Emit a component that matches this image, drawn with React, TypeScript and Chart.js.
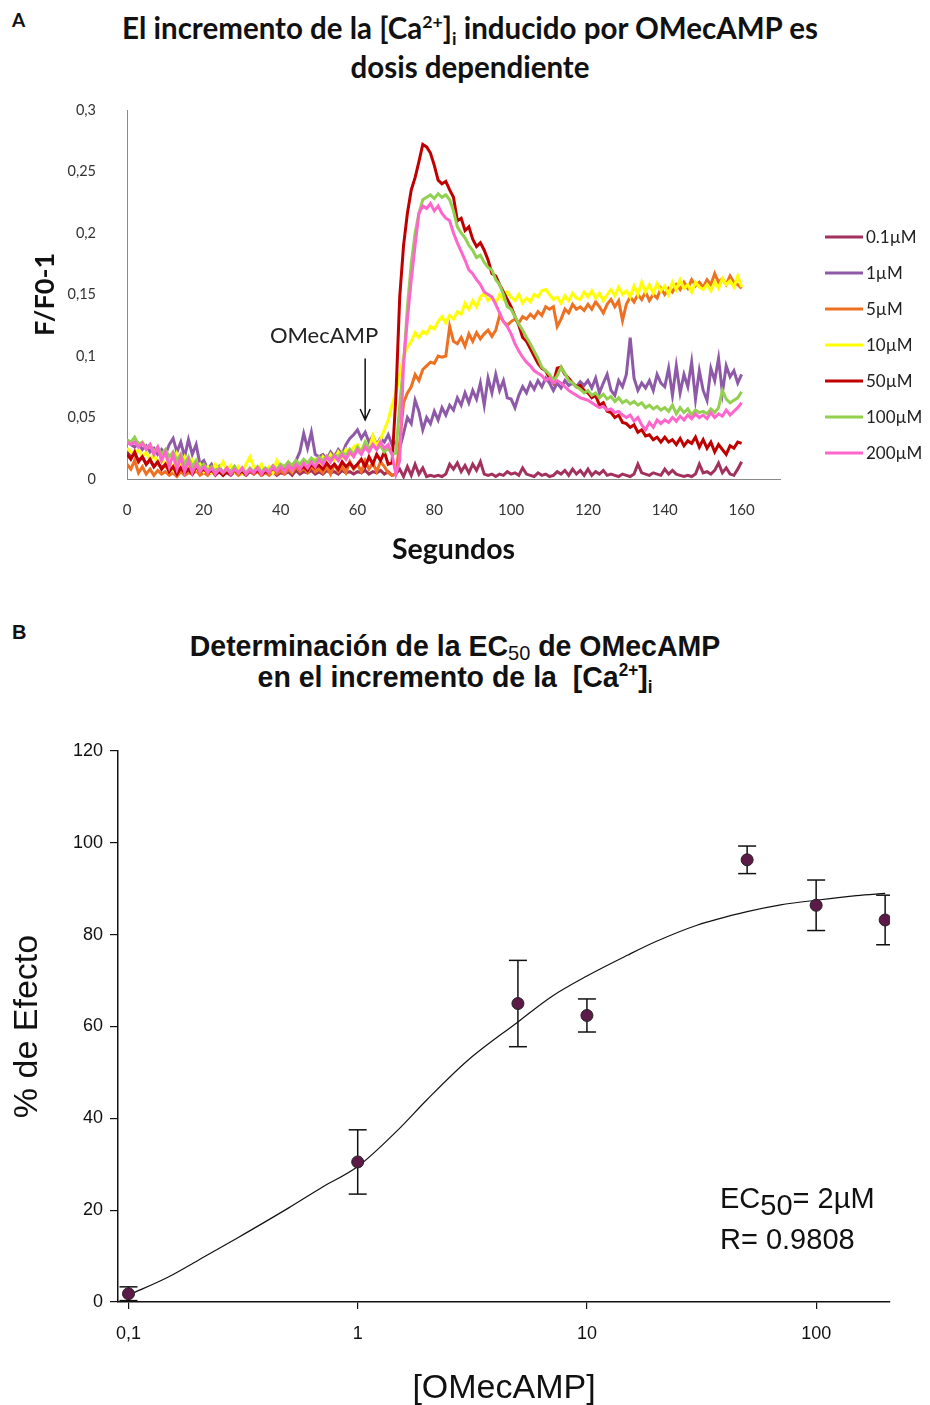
import React, { useEffect, useRef } from "react";
import { Chart, registerables } from "chart.js";
Chart.register(...registerables);

// ---------- Panel A data (F/F0-1 vs seconds, 1 s sampling) ----------
const seconds: number[] = Array.from({ length: 161 }, (_, i) => i);
const doseLabels = ["0.1µM", "1µM", "5µM", "10µM", "50µM", "100µM", "200µM"];
const traceColors = ["#A3315E", "#8E5AA8", "#EE7122", "#FFFF00", "#C00000", "#92D050", "#FF66CC"];

const trace01 = [
  0.022, 0.018, 0.02, 0.015, 0.018, 0.012, 0.015, 0.01, 0.013, 0.009,
  0.012, 0.008, 0.01, 0.006, 0.009, 0.005, 0.008, 0.004, 0.007, 0.005,
  0.006, 0.004, 0.007, 0.003, 0.006, 0.004, 0.005, 0.003, 0.006, 0.004,
  0.005, 0.003, 0.006, 0.004, 0.007, 0.003, 0.005, 0.004, 0.006, 0.003,
  0.005, 0.004, 0.006, 0.003, 0.007, 0.004, 0.006, 0.005, 0.007, 0.004,
  0.006, 0.004, 0.007, 0.005, 0.006, 0.004, 0.007, 0.005, 0.006, 0.004,
  0.006, 0.005, 0.007, 0.004, 0.006, 0.005, 0.007, 0.004, 0.006, 0.003,
  0.004, 0.008, 0.002, 0.01, 0.003, 0.012, 0.004, 0.009, 0.002, 0.003,
  0.002, 0.003, 0.002, 0.004, 0.012, 0.008, 0.013, 0.006, 0.011, 0.005,
  0.012, 0.007, 0.014, 0.004, 0.003, 0.004, 0.002, 0.004, 0.003, 0.006,
  0.004, 0.005, 0.003, 0.009, 0.004, 0.003, 0.002, 0.005, 0.003, 0.004,
  0.002, 0.003, 0.006, 0.004, 0.007, 0.003, 0.008, 0.004, 0.007, 0.003,
  0.008, 0.003, 0.006, 0.004, 0.007, 0.003, 0.004, 0.003, 0.002, 0.004,
  0.003, 0.002, 0.004, 0.012, 0.005, 0.004, 0.003, 0.005, 0.004, 0.003,
  0.008, 0.004, 0.007, 0.004, 0.003, 0.002, 0.003, 0.002, 0.004, 0.012,
  0.005, 0.006, 0.004, 0.007, 0.013, 0.005, 0.009, 0.004, 0.003, 0.008,
  0.014,
];
const trace1 = [
  0.03, 0.028, 0.026, 0.029, 0.024, 0.027, 0.022, 0.025, 0.02, 0.024,
  0.02, 0.028, 0.033, 0.022, 0.03, 0.018, 0.032, 0.02, 0.028, 0.012,
  0.015, 0.008, 0.012, 0.006, 0.01, 0.005, 0.009, 0.006, 0.01, 0.005,
  0.008, 0.004, 0.007, 0.005, 0.008, 0.004, 0.007, 0.005, 0.009, 0.006,
  0.01, 0.008, 0.012, 0.01, 0.015, 0.022, 0.037, 0.025, 0.038, 0.02,
  0.018, 0.02, 0.016, 0.022, 0.018, 0.024, 0.02, 0.028, 0.033, 0.036,
  0.04, 0.033, 0.038, 0.03, 0.035, 0.028, 0.033, 0.03, 0.036, 0.028,
  0.03, 0.025, 0.037, 0.05, 0.045, 0.064, 0.055, 0.04, 0.05, 0.045,
  0.055, 0.048, 0.058, 0.052, 0.06, 0.056, 0.066, 0.06, 0.07, 0.062,
  0.072, 0.065, 0.078, 0.06, 0.082, 0.07, 0.085, 0.072, 0.08, 0.066,
  0.065, 0.058, 0.068, 0.075, 0.07, 0.078, 0.073, 0.08, 0.075, 0.082,
  0.078, 0.072, 0.078, 0.074, 0.08, 0.076, 0.078, 0.075, 0.079, 0.076,
  0.08, 0.074, 0.082, 0.07, 0.078, 0.085, 0.072, 0.068, 0.08, 0.075,
  0.085, 0.115, 0.082, 0.072, 0.078, 0.074, 0.08, 0.072, 0.085, 0.078,
  0.075, 0.09, 0.068, 0.092, 0.07, 0.085, 0.075, 0.095, 0.065, 0.088,
  0.072, 0.064, 0.09, 0.08, 0.098, 0.07, 0.092, 0.083, 0.088, 0.078,
  0.085,
];
const trace5 = [
  0.012, 0.008, 0.015, 0.005, 0.01, 0.004, 0.008, 0.003, 0.007, 0.004,
  0.006, 0.003, 0.005, 0.002, 0.006, 0.003, 0.005, 0.004, 0.007, 0.003,
  0.005, 0.003, 0.006, 0.004, 0.008, 0.005, 0.007, 0.004, 0.006, 0.003,
  0.005, 0.004, 0.007, 0.004, 0.006, 0.003, 0.005, 0.003, 0.006, 0.004,
  0.007, 0.004, 0.008, 0.005, 0.01, 0.006, 0.009, 0.005, 0.011, 0.006,
  0.008, 0.005, 0.01, 0.004, 0.012, 0.006, 0.01, 0.005, 0.014, 0.008,
  0.012, 0.006, 0.015, 0.008, 0.013, 0.006, 0.014, 0.01, 0.005, 0.003,
  0.004, 0.03, 0.062, 0.07, 0.075, 0.085, 0.08, 0.089, 0.092, 0.095,
  0.094, 0.1, 0.099, 0.1, 0.124, 0.112, 0.11, 0.115, 0.108, 0.118,
  0.112, 0.119, 0.114, 0.118, 0.121, 0.116, 0.121, 0.133, 0.128, 0.125,
  0.128, 0.13, 0.127, 0.132, 0.13, 0.134, 0.131, 0.136, 0.133, 0.14,
  0.138, 0.14, 0.124, 0.13, 0.138, 0.135, 0.142, 0.138, 0.14, 0.137,
  0.142, 0.138, 0.144, 0.14, 0.135, 0.142, 0.146, 0.14, 0.145, 0.129,
  0.142, 0.148, 0.144, 0.15, 0.146, 0.152, 0.145, 0.15, 0.147, 0.155,
  0.15, 0.155, 0.152, 0.158, 0.154, 0.16, 0.155, 0.162, 0.157, 0.16,
  0.156, 0.162, 0.158, 0.167, 0.16, 0.163, 0.158, 0.165, 0.16, 0.158,
  0.155,
];
const trace10 = [
  0.025, 0.022, 0.02, 0.024, 0.018, 0.022, 0.015, 0.02, 0.012, 0.018,
  0.01, 0.016, 0.008, 0.02, 0.012, 0.018, 0.01, 0.015, 0.008, 0.012,
  0.006, 0.01, 0.005, 0.012, 0.008, 0.014, 0.007, 0.011, 0.006, 0.01,
  0.005, 0.012, 0.018, 0.01, 0.007, 0.012, 0.006, 0.01, 0.005, 0.015,
  0.01, 0.008, 0.012, 0.007, 0.014, 0.009, 0.012, 0.008, 0.013, 0.016,
  0.012, 0.018, 0.014, 0.02, 0.015, 0.022, 0.018, 0.024, 0.02, 0.026,
  0.028, 0.022, 0.03, 0.024, 0.035, 0.027, 0.032, 0.04, 0.048, 0.06,
  0.07, 0.085, 0.1, 0.107, 0.112, 0.119, 0.115, 0.12, 0.118, 0.124,
  0.122, 0.128, 0.132, 0.127, 0.133, 0.13, 0.136, 0.134, 0.143, 0.138,
  0.145, 0.14, 0.148, 0.151, 0.145, 0.148, 0.143, 0.15, 0.146, 0.152,
  0.148, 0.145, 0.15, 0.143, 0.147, 0.144, 0.15, 0.148, 0.153, 0.154,
  0.15, 0.146, 0.148, 0.143, 0.149, 0.145, 0.151, 0.147, 0.146, 0.152,
  0.148, 0.153, 0.147, 0.151, 0.145, 0.15, 0.154, 0.149, 0.156, 0.15,
  0.153, 0.148, 0.157, 0.15, 0.16, 0.152, 0.158, 0.151, 0.159, 0.153,
  0.157, 0.15, 0.16, 0.154, 0.162, 0.155, 0.158, 0.152, 0.16, 0.156,
  0.154, 0.158, 0.153, 0.16, 0.155, 0.163, 0.158, 0.161, 0.156, 0.165,
  0.156,
];
const trace50 = [
  0.02, 0.016, 0.022, 0.014, 0.018, 0.012, 0.016, 0.01, 0.014, 0.008,
  0.012, 0.006, 0.01, 0.004, 0.009, 0.005, 0.008, 0.004, 0.01, 0.006,
  0.008, 0.005, 0.007, 0.004, 0.006, 0.003, 0.006, 0.004, 0.007, 0.005,
  0.006, 0.004, 0.008, 0.005, 0.007, 0.004, 0.006, 0.005, 0.009, 0.006,
  0.01, 0.007, 0.011, 0.008, 0.012, 0.008, 0.01, 0.007, 0.012, 0.009,
  0.011, 0.008, 0.013, 0.009, 0.012, 0.008, 0.014, 0.01, 0.013, 0.009,
  0.012, 0.016, 0.01, 0.018, 0.012, 0.02, 0.015, 0.022, 0.012, 0.013,
  0.067, 0.148, 0.19, 0.216, 0.235, 0.245, 0.258, 0.272, 0.27, 0.265,
  0.255, 0.243, 0.24, 0.242, 0.235, 0.229, 0.21, 0.212, 0.202, 0.205,
  0.195, 0.189, 0.192, 0.186, 0.178, 0.167, 0.165, 0.158, 0.152, 0.146,
  0.14, 0.132, 0.125, 0.115, 0.112, 0.106, 0.1, 0.094, 0.09, 0.088,
  0.082, 0.078, 0.09, 0.091, 0.085, 0.082, 0.078, 0.075, 0.076, 0.072,
  0.07, 0.066, 0.068, 0.06, 0.062, 0.055, 0.054, 0.05, 0.052, 0.046,
  0.045, 0.042, 0.044, 0.038, 0.04, 0.035, 0.036, 0.032, 0.034, 0.03,
  0.034, 0.03, 0.032, 0.028, 0.033, 0.027, 0.031, 0.029, 0.034, 0.026,
  0.032, 0.025, 0.03, 0.022, 0.028, 0.024, 0.02, 0.027, 0.025, 0.03,
  0.029,
];
const trace100 = [
  0.032, 0.03, 0.034, 0.028, 0.03, 0.025, 0.028, 0.022, 0.026, 0.02,
  0.024, 0.018, 0.022, 0.015, 0.02, 0.012, 0.018, 0.01, 0.015, 0.008,
  0.012, 0.007, 0.01, 0.006, 0.009, 0.005, 0.008, 0.006, 0.01, 0.005,
  0.008, 0.005, 0.009, 0.006, 0.01, 0.006, 0.009, 0.007, 0.011, 0.008,
  0.012, 0.01, 0.014, 0.011, 0.015, 0.012, 0.016, 0.013, 0.017, 0.014,
  0.018, 0.015, 0.019, 0.016, 0.02, 0.018, 0.022, 0.019, 0.024, 0.02,
  0.026, 0.022, 0.03, 0.025, 0.028, 0.024, 0.027, 0.022, 0.025, 0.02,
  0.021, 0.06, 0.094, 0.14, 0.175, 0.2, 0.216, 0.227, 0.229, 0.231,
  0.228, 0.232, 0.229, 0.231, 0.227, 0.218, 0.205, 0.2, 0.196, 0.19,
  0.186, 0.18, 0.182, 0.176, 0.172, 0.17, 0.162, 0.158, 0.15, 0.14,
  0.138, 0.132, 0.126, 0.121, 0.115, 0.11, 0.104, 0.098, 0.091, 0.088,
  0.085, 0.08, 0.084, 0.091, 0.086, 0.08, 0.078, 0.075, 0.073, 0.07,
  0.072, 0.068, 0.07, 0.066, 0.069, 0.065, 0.067, 0.063, 0.066, 0.062,
  0.064, 0.061, 0.063, 0.06, 0.062, 0.058, 0.06, 0.057, 0.059, 0.056,
  0.058, 0.055, 0.06, 0.053, 0.058, 0.054, 0.057, 0.052, 0.056, 0.054,
  0.055, 0.053, 0.057, 0.054, 0.058, 0.072, 0.065, 0.062, 0.064, 0.066,
  0.071,
];
const trace200 = [
  0.03, 0.028, 0.03, 0.026, 0.029, 0.024, 0.028, 0.02, 0.026, 0.015,
  0.022, 0.01, 0.02, 0.008, 0.018, 0.006, 0.015, 0.005, 0.012, 0.006,
  0.01, 0.005, 0.009, 0.004, 0.008, 0.005, 0.009, 0.004, 0.008, 0.005,
  0.009, 0.004, 0.008, 0.005, 0.009, 0.004, 0.008, 0.005, 0.01, 0.006,
  0.01, 0.006, 0.011, 0.007, 0.012, 0.008, 0.013, 0.009, 0.014, 0.01,
  0.016, 0.012, 0.018, 0.014, 0.019, 0.015, 0.02, 0.016, 0.022, 0.018,
  0.024, 0.02, 0.026, 0.022, 0.028, 0.024, 0.03, 0.025, 0.028, 0.02,
  0.004, 0.015, 0.094, 0.13, 0.162, 0.19, 0.216, 0.222, 0.22, 0.224,
  0.218, 0.222, 0.216, 0.212, 0.21, 0.2, 0.192, 0.185, 0.178, 0.17,
  0.167, 0.162, 0.158, 0.152, 0.15, 0.148, 0.142, 0.135, 0.128, 0.124,
  0.118, 0.11, 0.104, 0.099, 0.095, 0.092, 0.088, 0.086, 0.084, 0.08,
  0.082, 0.078, 0.08, 0.078, 0.075, 0.072, 0.07, 0.068, 0.066, 0.065,
  0.064, 0.062, 0.06, 0.058, 0.059, 0.056, 0.057, 0.054, 0.055, 0.052,
  0.05, 0.052, 0.047, 0.05, 0.044, 0.04, 0.046, 0.042, 0.048, 0.045,
  0.048, 0.046, 0.05, 0.047, 0.051, 0.048, 0.052, 0.049, 0.053, 0.05,
  0.052, 0.049, 0.054, 0.05, 0.053, 0.051, 0.056, 0.052, 0.055, 0.058,
  0.062,
];
const tracesA = [trace01, trace1, trace5, trace10, trace50, trace100, trace200];

const yTicksA = [0, 0.05, 0.1, 0.15, 0.2, 0.25, 0.3];
// annotation "OMecAMP" (seconds, F/F0-1)
const annotText = "OMecAMP";
const annotTextPos = { t: 51.3, v: 0.116 };
const annotArrow = { t: 62, from: 0.098, to: 0.048 };

// ---------- Panel B data ----------
const doses = [0.1, 1, 5, 10, 50, 100, 200];
const effect = [1.8, 30.5, 65, 62.4, 96.3, 86.4, 83.2];
const sem = [1.5, 7, 9.4, 3.6, 3, 5.5, 5.4];
const fitX = [0.1, 0.15, 0.2, 0.3, 0.5, 0.7, 1, 1.5, 2, 3, 5, 7, 10, 15, 20, 30, 50, 70, 100, 150, 200];
const fitY = [1.5, 5.5, 9, 14, 20.5, 25, 29.5, 37.5, 44, 52.5, 61, 66.5, 71, 75.5, 78.5, 82, 85, 86.5, 87.5, 88.5, 89];
const xTickValuesB = [0.1, 1, 10, 100];
const xTickLabelsB = ["0,1", "1", "10", "100"];

const fontA = "Lato, 'Open Sans', sans-serif";
const fontB = "'Liberation Sans', Arial, sans-serif";

const legendPluginA = {
  id: "legendA",
  afterDraw(chart: any) {
    const { ctx, chartArea } = chart;
    ctx.save();
    ctx.font = `17px ${fontA}`;
    ctx.textBaseline = "middle";
    ctx.textAlign = "left";
    chart.data.datasets.forEach((ds: any, i: number) => {
      const y = 147 + i * 36;
      const x0 = chartArea.right + 45;
      ctx.strokeStyle = ds.borderColor;
      ctx.lineWidth = 3;
      ctx.beginPath();
      ctx.moveTo(x0, y);
      ctx.lineTo(x0 + 38, y);
      ctx.stroke();
      ctx.fillStyle = "#222";
      ctx.fillText(ds.label, x0 + 41, y + 1);
    });
    ctx.restore();
  },
};

const annotPluginA = {
  id: "annotA",
  afterDatasetsDraw(chart: any) {
    const { ctx, scales } = chart;
    const x = scales.x, y = scales.y;
    ctx.save();
    ctx.fillStyle = "#222";
    ctx.font = `22px ${fontA}`;
    ctx.textAlign = "center";
    ctx.textBaseline = "middle";
    ctx.fillText(annotText, x.getPixelForValue(annotTextPos.t), y.getPixelForValue(annotTextPos.v));
    const ax = x.getPixelForValue(annotArrow.t);
    const y0 = y.getPixelForValue(annotArrow.from);
    const y1 = y.getPixelForValue(annotArrow.to);
    ctx.strokeStyle = "#111";
    ctx.lineWidth = 1.5;
    ctx.beginPath();
    ctx.moveTo(ax, y0);
    ctx.lineTo(ax, y1);
    ctx.moveTo(ax - 5, y1 - 11);
    ctx.lineTo(ax, y1);
    ctx.lineTo(ax + 5, y1 - 11);
    ctx.stroke();
    ctx.restore();
  },
};

export default function App() {
  const refA = useRef<HTMLCanvasElement>(null);
  const refB = useRef<HTMLCanvasElement>(null);

  useEffect(() => {
    const chartA = new Chart(refA.current as HTMLCanvasElement, {
      type: "line",
      data: {
        datasets: tracesA.map((vals, i) => ({
          label: doseLabels[i],
          data: vals.map((v, j) => ({ x: seconds[j], y: v })),
          borderColor: traceColors[i],
          backgroundColor: traceColors[i],
          borderWidth: 3,
          pointRadius: 0,
          tension: 0,
          order: tracesA.length - 1 - i,
        })),
      },
      options: {
        responsive: false,
        animation: false,
        events: [],
        layout: { padding: { left: 0, right: 150, top: 20, bottom: 0 } },
        plugins: { legend: { display: false }, tooltip: { enabled: false } },
        scales: {
          x: {
            type: "linear",
            min: 0,
            max: 170,
            grid: { display: false, drawTicks: false },
            border: { display: true, color: "#8a8a8a", width: 1 },
            ticks: { stepSize: 20, includeBounds: false, padding: 22, color: "#333", font: { family: fontA, size: 15 } },
            title: { display: true, text: "Segundos", color: "#111", font: { family: fontA, size: 28.5, weight: "bold" }, padding: { top: 0, bottom: 13 } },
            afterFit: (s: any) => { s.height = 101; },
          },
          y: {
            min: 0,
            max: 0.3,
            grid: { display: true, drawOnChartArea: false, drawTicks: true, tickLength: 27, color: "rgba(0,0,0,0)" },
            border: { display: true, color: "#8a8a8a", width: 1 },
            afterBuildTicks: (s: any) => { s.ticks = yTicksA.map((v) => ({ value: v })); },
            ticks: {
              padding: 4,
              color: "#333",
              font: { family: fontA, size: 14.5 },
              callback: (v: any) => String(Math.round(Number(v) * 100) / 100).replace(".", ","),
            },
            title: { display: true, text: "F/F0-1", color: "#111", font: { family: fontA, size: 27, weight: "bold" }, padding: { top: 29, bottom: 0 } },
            afterFit: (s: any) => { s.width = 127; },
          },
        },
      } as any,
      plugins: [legendPluginA, annotPluginA],
    });

    const errorBarData: any[] = [];
    doses.forEach((d, i) => {
      errorBarData.push({ x: d, y: effect[i] - sem[i] }, { x: d, y: effect[i] + sem[i] }, { x: d, y: null });
    });

    const chartB = new Chart(refB.current as HTMLCanvasElement, {
      type: "scatter",
      data: {
        datasets: [
          {
            label: "fit",
            data: fitX.map((x, i) => ({ x, y: fitY[i] })),
            showLine: true,
            borderColor: "#111",
            borderWidth: 1.2,
            pointRadius: 0,
            cubicInterpolationMode: "monotone",
            order: 3,
          },
          {
            label: "sem",
            data: errorBarData,
            showLine: true,
            spanGaps: false,
            borderColor: "#111",
            borderWidth: 1.5,
            pointStyle: "line",
            pointRadius: 9,
            pointBorderWidth: 1.5,
            pointBorderColor: "#111",
            order: 2,
          },
          {
            label: "mean",
            data: doses.map((x, i) => ({ x, y: effect[i] })),
            showLine: false,
            pointRadius: 6,
            pointBackgroundColor: "#5C1A48",
            pointBorderColor: "#222",
            pointBorderWidth: 1,
            order: 1,
          },
        ],
      },
      options: {
        responsive: false,
        animation: false,
        events: [],
        layout: { padding: { left: 0, right: 40, top: 41, bottom: 0 } },
        plugins: { legend: { display: false }, tooltip: { enabled: false } },
        scales: {
          x: {
            type: "logarithmic",
            min: 0.09,
            max: 210,
            grid: { display: true, drawOnChartArea: false, drawTicks: true, tickLength: 7, color: "#111", lineWidth: 1.2 },
            border: { display: true, color: "#111", width: 1.5 },
            afterBuildTicks: (s: any) => { s.ticks = xTickValuesB.map((v) => ({ value: v })); },
            ticks: {
              padding: 14,
              color: "#111",
              autoSkip: false,
              maxRotation: 0,
              font: { family: fontB, size: 18 },
              callback: (v: any) => { const k = xTickValuesB.indexOf(Number(v)); return k >= 0 ? xTickLabelsB[k] : ""; },
            },
            title: { display: true, text: "[OMecAMP]", color: "#111", font: { family: fontB, size: 34 }, padding: { top: 0, bottom: -4 } },
            afterFit: (s: any) => { s.height = 103; },
          },
          y: {
            min: 0,
            max: 120,
            grid: { display: true, drawOnChartArea: false, drawTicks: true, tickLength: 8, color: "#111", lineWidth: 1.2 },
            border: { display: true, color: "#111", width: 1.5 },
            ticks: { stepSize: 20, padding: 7, color: "#111", font: { family: fontB, size: 18 } },
            title: { display: true, text: "% de Efecto", color: "#111", font: { family: fontB, size: 34 }, padding: { top: 7, bottom: 0 } },
            afterFit: (s: any) => { s.width = 118; },
          },
        },
      } as any,
    });

    return () => {
      chartA.destroy();
      chartB.destroy();
    };
  }, []);

  const supStyle: React.CSSProperties = { fontSize: "0.6em", position: "relative", top: "-0.6em", lineHeight: 0 };
  const subStyle: React.CSSProperties = { fontSize: "0.6em", position: "relative", top: "0.35em", lineHeight: 0 };

  return (
    <div style={{ position: "absolute", left: 0, top: 0, width: 930, height: 1405, background: "#fff", overflow: "hidden" }}>
      <div style={{ position: "absolute", left: 12, top: 8, fontFamily: fontA, fontWeight: 700, fontSize: 19, color: "#111" }}>A</div>
      <div
        style={{
          position: "absolute", left: 0, top: 8, width: 940, textAlign: "center",
          fontFamily: fontA, fontWeight: 700, fontSize: 29.5, lineHeight: "39px", color: "#111",
        }}
      >
        El incremento de la [Ca<span style={supStyle}>2+</span>]<span style={subStyle}>i</span> inducido por OMecAMP es
        <br />
        dosis dependiente
      </div>
      <canvas ref={refA} width={930} height={490} style={{ position: "absolute", left: 0, top: 90, display: "block" }} />

      <div style={{ position: "absolute", left: 12, top: 621, fontFamily: fontB, fontWeight: 700, fontSize: 20, color: "#111" }}>B</div>
      <div
        style={{
          position: "absolute", left: 0, top: 630, width: 910, textAlign: "center",
          fontFamily: fontB, fontWeight: 700, fontSize: 30, lineHeight: "31px", color: "#111",
          transform: "scaleX(0.95)", transformOrigin: "455px 0",
        }}
      >
        Determinación de la EC<span style={{ fontSize: "0.7em", fontWeight: 400, position: "relative", top: "0.2em", lineHeight: 0 }}>50</span> de OMecAMP
        <br />
        en el incremento de la&nbsp; [Ca<span style={supStyle}>2+</span>]<span style={subStyle}>i</span>
      </div>
      <canvas ref={refB} width={930} height={695} style={{ position: "absolute", left: 0, top: 710, display: "block" }} />
      <div style={{ position: "absolute", left: 720, top: 1178, fontFamily: fontB, fontSize: 29, lineHeight: "41px", color: "#111", whiteSpace: "nowrap" }}>
        EC<span style={{ position: "relative", top: "0.25em", lineHeight: 0 }}>50</span>= 2µM
        <br />
        R= 0.9808
      </div>
    </div>
  );
}
